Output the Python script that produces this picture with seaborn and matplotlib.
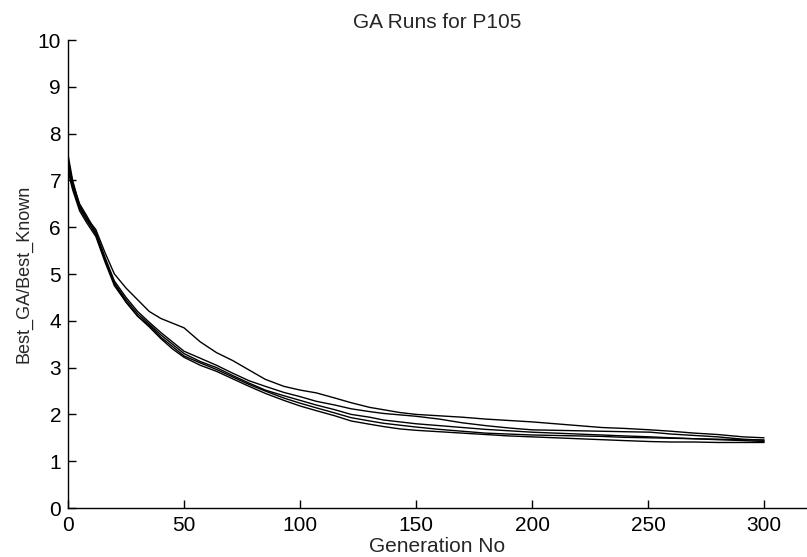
import pandas as pd
import matplotlib
matplotlib.use('agg')
import seaborn as sns
import matplotlib.pyplot as plt

X = "Generation No"
Y = "Best_GA/Best_Known"
RUN = "run"

GENS = [0, 2, 5, 8, 12, 16, 20, 25, 30, 35, 40, 45, 50, 57, 64, 71, 78, 85, 93, 100,
        107, 115, 122, 130, 136, 143, 150, 160, 170, 180, 190, 200, 210, 220, 230, 240,
        251, 260, 270, 280, 291, 300]

RUN_A = [7.55, 7.0, 6.45, 6.2, 5.95, 5.45, 5.0, 4.7, 4.45, 4.2, 4.05, 3.95, 3.85, 3.55,
         3.32, 3.15, 2.95, 2.75, 2.6, 2.52, 2.46, 2.35, 2.25, 2.15, 2.1, 2.04, 2.0, 1.97,
         1.94, 1.9, 1.87, 1.84, 1.8, 1.76, 1.72, 1.7, 1.67, 1.64, 1.6, 1.57, 1.52, 1.5]
RUN_B = [7.45, 6.95, 6.5, 6.25, 5.9, 5.35, 4.85, 4.5, 4.2, 3.97, 3.75, 3.55, 3.35, 3.2,
         3.05, 2.88, 2.72, 2.6, 2.47, 2.38, 2.28, 2.2, 2.12, 2.06, 2.02, 1.99, 1.96, 1.9,
         1.82, 1.76, 1.71, 1.67, 1.66, 1.65, 1.64, 1.63, 1.62, 1.58, 1.55, 1.52, 1.47, 1.45]
RUN_C = [7.3, 6.85, 6.4, 6.15, 5.85, 5.3, 4.8, 4.45, 4.15, 3.93, 3.7, 3.5, 3.3, 3.13,
         3.0, 2.83, 2.67, 2.52, 2.4, 2.3, 2.2, 2.1, 2.0, 1.94, 1.88, 1.84, 1.8, 1.76,
         1.72, 1.68, 1.65, 1.62, 1.6, 1.58, 1.56, 1.54, 1.52, 1.5, 1.48, 1.46, 1.44, 1.42]
RUN_D = [7.2, 6.8, 6.35, 6.1, 5.8, 5.25, 4.75, 4.4, 4.1, 3.9, 3.65, 3.45, 3.25, 3.1,
         2.96, 2.8, 2.64, 2.5, 2.35, 2.24, 2.14, 2.03, 1.93, 1.86, 1.81, 1.77, 1.73, 1.68,
         1.64, 1.6, 1.58, 1.56, 1.55, 1.54, 1.53, 1.51, 1.5, 1.49, 1.48, 1.47, 1.46, 1.45]
RUN_E = [7.4, 6.9, 6.45, 6.2, 5.85, 5.3, 4.8, 4.4, 4.1, 3.87, 3.62, 3.4, 3.22, 3.05,
         2.92, 2.76, 2.6, 2.45, 2.3, 2.18, 2.08, 1.97, 1.86, 1.79, 1.74, 1.69, 1.66, 1.63,
         1.6, 1.57, 1.54, 1.52, 1.5, 1.48, 1.46, 1.44, 1.42, 1.41, 1.41, 1.4, 1.4, 1.4]

RUNS = {"A": RUN_A, "B": RUN_B, "C": RUN_C, "D": RUN_D, "E": RUN_E}


def create_data():
    frames = []
    for name, vals in RUNS.items():
        frames.append(pd.DataFrame({X: GENS, Y: vals, RUN: name}))
    return pd.concat(frames, ignore_index=True)


def main(output):
    df = create_data()

    sns.set_style("ticks")
    plt.rcParams['font.family'] = ['Liberation Sans', 'DejaVu Sans']

    fig = plt.figure(figsize=(8.07, 5.57), dpi=100)
    ax = fig.add_axes([68 / 807, 49 / 557, 1 - 68 / 807, 468 / 557])

    sns.lineplot(data=df, x=X, y=Y, hue=RUN, palette=["black"] * 5,
                 linewidth=1.0, legend=False, ax=ax)

    ax.set_xlim(0, 318.5)
    ax.set_ylim(0, 10)
    ax.set_xticks(range(0, 301, 50))
    ax.set_yticks(range(0, 11))

    sns.despine(ax=ax)
    for s in ["left", "bottom"]:
        ax.spines[s].set_color("black")
        ax.spines[s].set_linewidth(1.0)
    ax.tick_params(direction="in", length=6, width=1.0, colors="black",
                   labelsize=15)
    ax.tick_params(axis="x", pad=6)
    ax.tick_params(axis="y", pad=5)

    ax.set_xlabel("Generation No", fontsize=15, labelpad=1)
    ax.set_ylabel("Best_GA/Best_Known", fontsize=13, labelpad=4)
    ax.set_title("GA Runs for P105", fontsize=15, pad=9)

    fig.savefig(output, dpi=100)


if __name__ == "__main__":
    main("out.png")
